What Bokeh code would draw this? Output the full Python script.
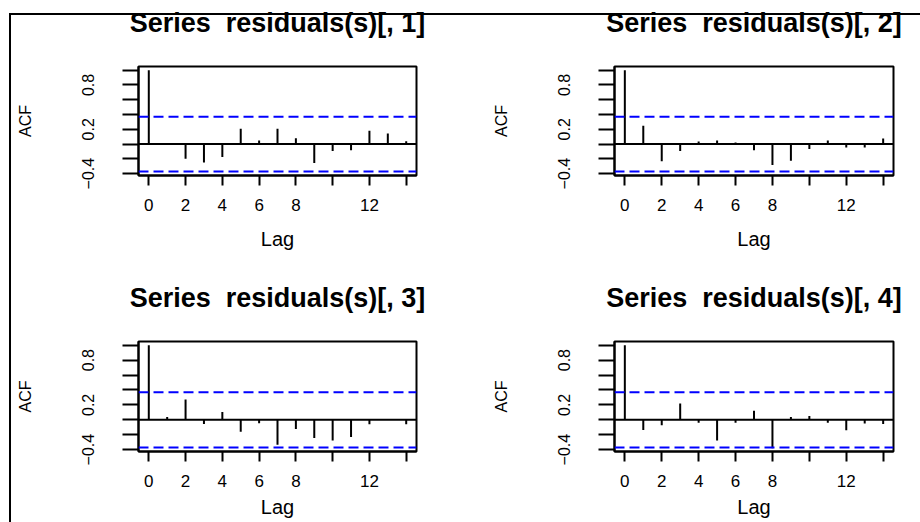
from bokeh.plotting import figure
from bokeh.layouts import column, row
from bokeh.models import Range1d, FixedTicker, Span, Title, InlineStyleSheet
from bokeh.embed import file_html
from bokeh.resources import INLINE

lags = list(range(15))
acf1 = [1.0, 0.0, -0.197, -0.25, -0.175, 0.206, 0.049, 0.206, 0.08, -0.256, -0.094, -0.085, 0.18, 0.143, 0.04]
acf2 = [1.0, 0.247, -0.233, -0.094, 0.036, 0.049, 0.022, -0.085, -0.283, -0.224, -0.067, 0.049, -0.045, -0.045, 0.076]
acf3 = [1.0, 0.036, 0.273, -0.055, 0.105, -0.159, -0.045, -0.336, -0.123, -0.245, -0.277, -0.232, -0.059, 0.0, -0.059]
acf4 = [1.0, -0.136, -0.073, 0.218, -0.041, -0.277, -0.041, 0.123, -0.382, 0.036, 0.05, -0.04, -0.14, -0.05, -0.055]
titles = ["Series \u00a0residuals(s)[, 1]", "Series \u00a0residuals(s)[, 2]",
          "Series \u00a0residuals(s)[, 3]", "Series \u00a0residuals(s)[, 4]"]
ci = 0.37
x_major = [0, 2, 4, 6, 8, 12]
x_minor = [10, 14]
y_major = [-0.4, 0.2, 0.8]
y_minor = [-0.2, 0.0, 0.4, 0.6, 1.0]

FONT = "Liberation Sans"


def panel(acf, title, width, height, bl, br, bt, bb, lag_standoff):
    p = figure(width=width, height=height, output_backend="svg", toolbar_location=None,
               x_range=Range1d(-0.56, 14.56), y_range=Range1d(-0.425, 1.05),
               min_border_left=bl, min_border_right=br, min_border_top=bt, min_border_bottom=bb)
    # spacer nearest the frame, then the real title above it
    p.add_layout(Title(text=" ", text_font_size="10px", standoff=16), "above")
    p.add_layout(Title(text=title, text_font=FONT, text_font_size="27px", text_font_style="bold",
                       align="center", text_color="#000000", standoff=0), "above")
    p.grid.visible = False
    p.outline_line_color = "black"
    p.outline_line_width = 2
    p.outline_line_alpha = 1.0
    p.background_fill_color = "white"
    p.border_fill_color = "white"

    p.segment(x0=lags, y0=[0] * len(lags), x1=lags, y1=acf, line_color="black", line_width=2)
    p.add_layout(Span(location=0, dimension="width", line_color="black", line_width=2))
    for c in (ci, -ci):
        p.add_layout(Span(location=c, dimension="width", line_color="#0000FF",
                          line_width=2, line_dash="10 5"))

    xa = p.xaxis[0]
    xa.ticker = FixedTicker(ticks=x_major, minor_ticks=x_minor)
    ya = p.yaxis[0]
    ya.ticker = FixedTicker(ticks=y_major, minor_ticks=y_minor)
    for ax in (xa, ya):
        ax.axis_line_color = "black"
        ax.axis_line_width = 2
        ax.major_tick_in = 0
        ax.minor_tick_in = 0
        ax.major_tick_line_color = "black"
        ax.minor_tick_line_color = "black"
        ax.major_tick_line_width = 2
        ax.minor_tick_line_width = 2
        ax.major_label_text_font = FONT
        ax.major_label_text_color = "#000000"
        ax.axis_label_text_font = FONT
        ax.axis_label_text_font_style = "normal"
        ax.axis_label_text_color = "#000000"
    xa.major_tick_out = 10
    xa.minor_tick_out = 10
    xa.major_label_text_font_size = "17px"
    xa.major_label_standoff = 13
    xa.axis_label = "Lag"
    xa.axis_label_text_font_size = "20px"
    xa.axis_label_standoff = lag_standoff
    ya.major_tick_out = 16
    ya.minor_tick_out = 16
    ya.major_label_orientation = "vertical"
    ya.major_label_text_font_size = "16px"
    ya.major_label_standoff = 28
    ya.axis_label = "ACF"
    ya.axis_label_text_font_size = "16px"
    ya.axis_label_standoff = 46
    return p


WL, WR = 476, 444
HT, HB = 273, 249
p1 = panel(acf1, titles[0], WL, HT, 138, 60, 66, 98, 14)
p2 = panel(acf2, titles[1], WR, HT, 138, 27, 66, 98, 14)
p3 = panel(acf3, titles[2], WL, HB, 138, 60, 68, 71, 6)
p4 = panel(acf4, titles[3], WR, HB, 138, 27, 68, 71, 6)

frame_css = InlineStyleSheet(css="""
:host { position: relative; overflow: visible; }
:host::before { content: ""; position: absolute; left: 9px; top: 13px; width: 2px; height: 509px;
                background: #000; z-index: 100; pointer-events: none; }
:host::after { content: ""; position: absolute; left: 9px; top: 13px; width: 911px; height: 2px;
               background: #000; z-index: 100; pointer-events: none; }
""")

layout = column(row(p1, p2), row(p3, p4), stylesheets=[frame_css])

open("out.html", "w").write(file_html(layout, INLINE))
